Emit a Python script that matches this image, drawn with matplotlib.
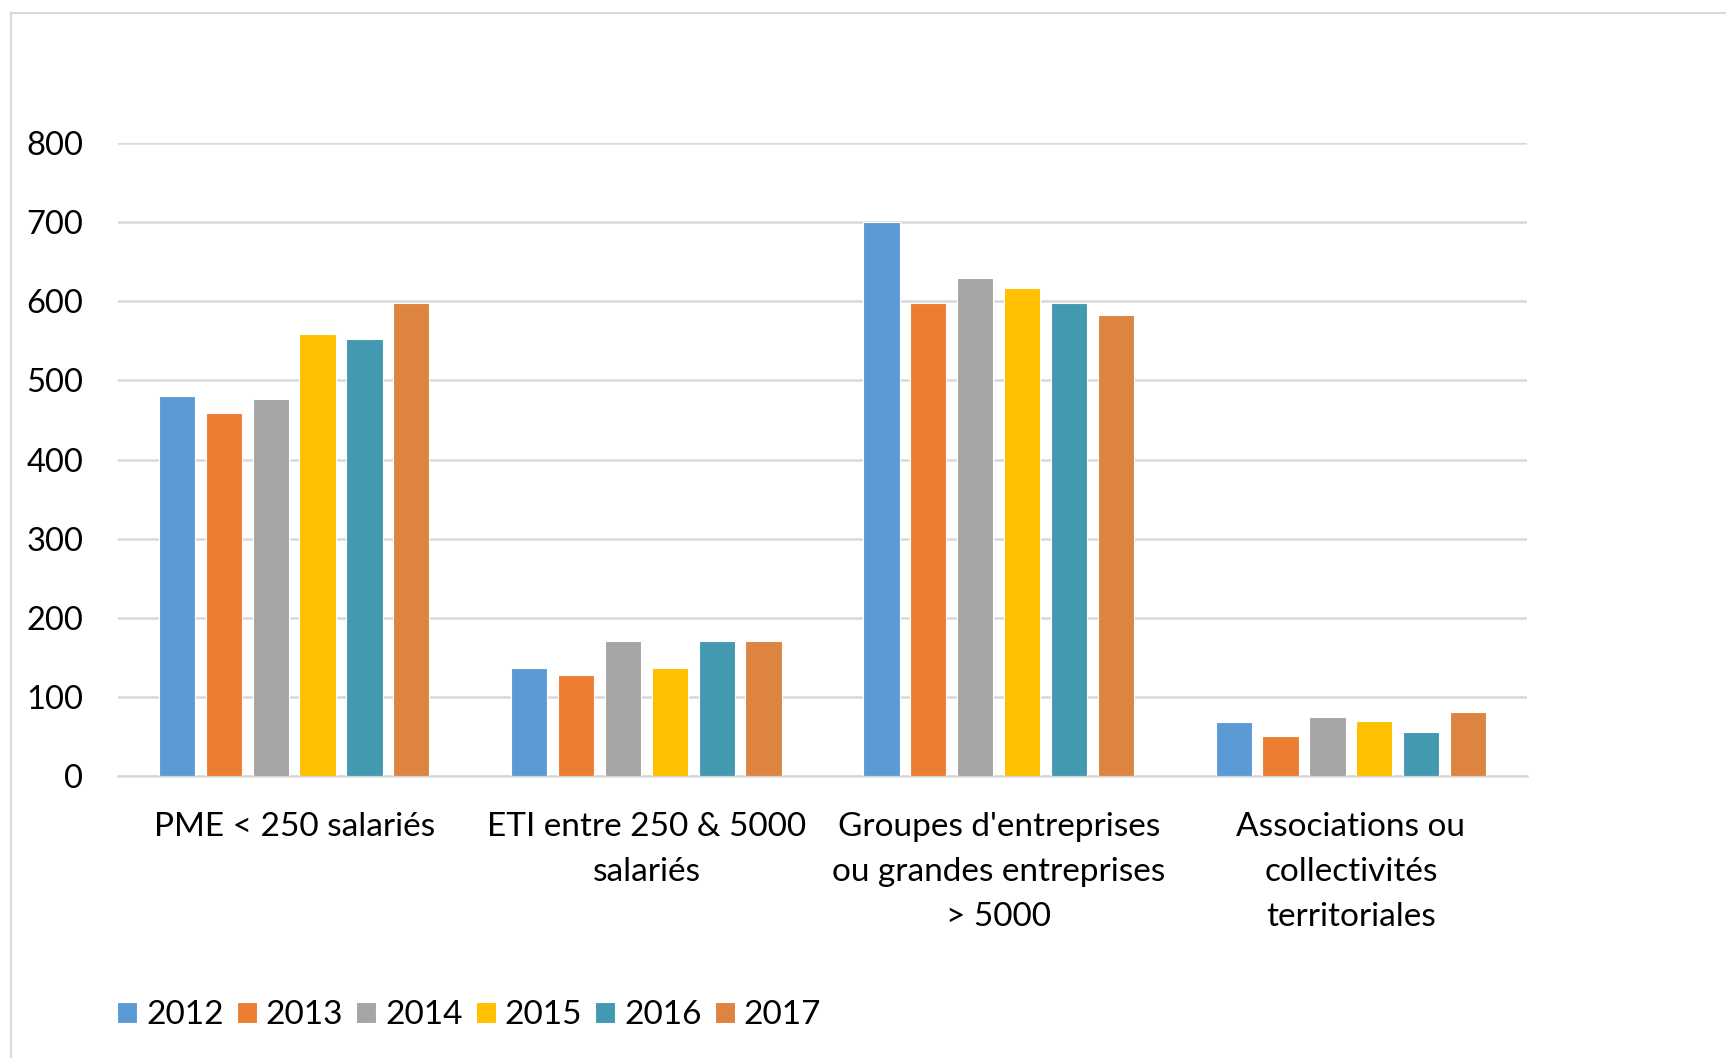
import matplotlib
matplotlib.use("Agg")
import matplotlib.pyplot as plt
import numpy as np
from matplotlib.patches import Rectangle

categories = ["PME < 250 salariés",
              "ETI entre 250 & 5000\nsalariés",
              "Groupes d'entreprises\nou grandes entreprises\n> 5000",
              "Associations ou\ncollectivités\nterritoriales"]
years = ["2012", "2013", "2014", "2015", "2016", "2017"]
v2012 = [480, 136, 700, 68]
v2013 = [459, 128, 598, 51]
v2014 = [477, 171, 629, 75]
v2015 = [558, 136, 617, 70]
v2016 = [552, 170, 598, 56]
v2017 = [598, 171, 583, 81]
series = [v2012, v2013, v2014, v2015, v2016, v2017]
colors = ["#5B9BD5", "#ED7D31", "#A5A5A5", "#FFC000", "#4399B0", "#DC8440"]
yticks = [0, 100, 200, 300, 400, 500, 600, 700, 800]

plt.rcParams['font.family'] = ['Lato', 'DejaVu Sans']
W, H = 1726, 1058
fig = plt.figure(figsize=(W / 100, H / 100), dpi=100)
ax = fig.add_axes([118 / W, 1 - 776 / H, (1527 - 118) / W, (776 - 143) / H])

x = np.arange(len(categories))
slot = 0.133
bw = 0.103
for i, (vals, c, yr) in enumerate(zip(series, colors, years)):
    ax.bar(x + (i - 2.5) * slot, vals, width=bw, color=c, label=yr,
           edgecolor="white", linewidth=0.8, zorder=3)

ax.set_xlim(-0.5, len(categories) - 0.5)
ax.set_ylim(0, 800)
ax.set_yticks(yticks)
ax.set_yticklabels([str(t) for t in yticks], fontsize=23.5, color="#000000")
ax.set_xticks(x)
ax.set_xticklabels(categories, fontsize=24, color="#000000", linespacing=1.63)
ax.tick_params(axis="both", length=0)
ax.tick_params(axis="y", pad=25)
ax.tick_params(axis="x", pad=26)
ax.grid(axis="y", color="#D9D9D9", linewidth=1.8, zorder=0)
for s in ["top", "right", "left"]:
    ax.spines[s].set_visible(False)
ax.spines["bottom"].set_color("#D9D9D9")
ax.spines["bottom"].set_linewidth(1.8)

leg = fig.legend(loc="center left", bbox_to_anchor=(117 / W, 1 - 1015 / H), ncol=6,
                 frameon=False, fontsize=24, handlelength=0.6, handleheight=0.6,
                 handletextpad=0.27, columnspacing=0.39, borderaxespad=0,
                 borderpad=0)

fig.patches.append(Rectangle((11 / W, -0.01), 1.02, 1 - 13 / H + 0.01,
                             transform=fig.transFigure, fill=False,
                             edgecolor="#D9D9D9", linewidth=1.5))

fig.savefig("out.png", dpi=100, facecolor="white")
